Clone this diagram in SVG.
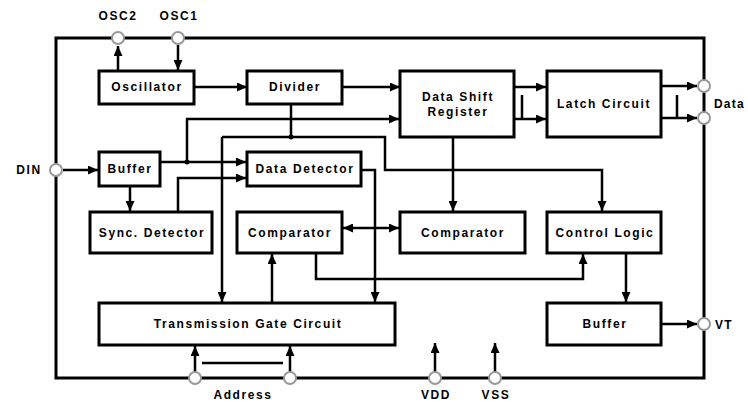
<svg xmlns="http://www.w3.org/2000/svg" width="748" height="402" viewBox="0 0 748 402">
<defs>
<style>
.box{fill:#fff;stroke:#000;stroke-width:3}
.ln{fill:none;stroke:#000;stroke-width:2.5}
.pin{fill:#fff;stroke:#999;stroke-width:2}
.t{font-family:"Liberation Sans",Arial,sans-serif;font-size:12px;font-weight:bold;letter-spacing:1.6px;text-anchor:middle;fill:#000}
.l{font-family:"Liberation Sans",Arial,sans-serif;font-size:12px;font-weight:bold;letter-spacing:1.2px;fill:#000}
</style>
<marker id="ah" markerUnits="userSpaceOnUse" markerWidth="10" markerHeight="9" refX="10" refY="4.5" orient="auto">
<path d="M0,0 L10,4.5 L0,9 z" fill="#000"/>
</marker>
</defs>
<rect width="748" height="402" fill="#fff"/>
<g id="frame">
<rect x="56" y="38" width="648" height="340" fill="none" stroke="#000" stroke-width="3"/>
</g>
<g id="connectors" class="ln">
<path d="M118,71 V46" marker-end="url(#ah)"/>
<path d="M178,45 V70" marker-end="url(#ah)"/>
<path d="M194,87 H247" marker-end="url(#ah)"/>
<path d="M342,87 H400" marker-end="url(#ah)"/>
<path d="M291,104 V137"/>
<path d="M222,137 H385 V170 H602 V211" marker-end="url(#ah)"/>
<path d="M222,137 V302" marker-end="url(#ah)"/>
<path d="M63,170 H98" marker-end="url(#ah)"/>
<path d="M160,162 H246" marker-end="url(#ah)"/>
<path d="M187,162 V119 H399" marker-end="url(#ah)"/>
<path d="M178,212 V178 H246" marker-end="url(#ah)"/>
<path d="M130,186 V211" marker-end="url(#ah)"/>
<path d="M361,170 H375 V302" marker-end="url(#ah)"/>
<path d="M453,137 V211" marker-end="url(#ah)"/>
<path d="M371,228 H343" marker-end="url(#ah)"/>
<path d="M371,228 H399" marker-end="url(#ah)"/>
<path d="M272,303 V254" marker-end="url(#ah)"/>
<path d="M316,253 V279 H583 V254" marker-end="url(#ah)"/>
<path d="M626,253 V302" marker-end="url(#ah)"/>
<path d="M661,324 H697" marker-end="url(#ah)"/>
<path d="M514,87 H546" marker-end="url(#ah)"/>
<path d="M514,119 H546" marker-end="url(#ah)"/>
<path d="M522,95 V119"/>
<path d="M661,86 H697" marker-end="url(#ah)"/>
<path d="M661,118 H697" marker-end="url(#ah)"/>
<path d="M677,95 V118"/>
<path d="M195,372 V346" marker-end="url(#ah)"/>
<path d="M290,372 V346" marker-end="url(#ah)"/>
<path d="M202,363 H283"/>
<path d="M435,372 V343" marker-end="url(#ah)"/>
<path d="M495,372 V343" marker-end="url(#ah)"/>
<circle cx="291" cy="137" r="2.5" fill="#000" stroke="none"/>
<circle cx="187" cy="162" r="2.5" fill="#000" stroke="none"/>
</g>
<g id="pins">
<circle class="pin" cx="118" cy="38" r="6"/>
<circle class="pin" cx="178" cy="38" r="6"/>
<circle class="pin" cx="56" cy="170" r="6"/>
<circle class="pin" cx="704" cy="86" r="6"/>
<circle class="pin" cx="704" cy="118" r="6"/>
<circle class="pin" cx="704" cy="324" r="6"/>
<circle class="pin" cx="195" cy="378" r="6"/>
<circle class="pin" cx="290" cy="378" r="6"/>
<circle class="pin" cx="435" cy="378" r="6"/>
<circle class="pin" cx="495" cy="378" r="6"/>
<text class="t" x="118" y="20">OSC2</text>
<text class="t" x="179" y="20">OSC1</text>
<text class="t" x="29" y="174">DIN</text>
<text class="l" x="714" y="108">Data</text>
<text class="l" x="715" y="329">VT</text>
<text class="t" x="243" y="399">Address</text>
<text class="t" x="436" y="399">VDD</text>
<text class="t" x="496" y="399">VSS</text>
</g>
<g id="oscillator"><rect class="box" x="99" y="71" width="95" height="33"/><text class="t" x="147" y="91">Oscillator</text></g>
<g id="divider"><rect class="box" x="247" y="71" width="95" height="33"/><text class="t" x="295" y="91">Divider</text></g>
<g id="data-shift-register"><rect class="box" x="400" y="71" width="114" height="66"/><text class="t" x="458" y="101">Data  Shift</text><text class="t" x="458" y="116">Register</text></g>
<g id="latch-circuit"><rect class="box" x="547" y="71" width="114" height="66"/><text class="t" x="604" y="108">Latch Circuit</text></g>
<g id="buffer-in"><rect class="box" x="99" y="152" width="61" height="34"/><text class="t" x="130" y="173">Buffer</text></g>
<g id="data-detector"><rect class="box" x="247" y="152" width="114" height="34"/><text class="t" x="305" y="173">Data Detector</text></g>
<g id="sync-detector"><rect class="box" x="90" y="212" width="122" height="41"/><text class="t" x="152" y="237">Sync. Detector</text></g>
<g id="comparator-1"><rect class="box" x="237" y="212" width="105" height="41"/><text class="t" x="290" y="237">Comparator</text></g>
<g id="comparator-2"><rect class="box" x="400" y="212" width="125" height="41"/><text class="t" x="463" y="237">Comparator</text></g>
<g id="control-logic"><rect class="box" x="547" y="212" width="114" height="41"/><text class="t" x="605" y="237">Control Logic</text></g>
<g id="transmission-gate-circuit"><rect class="box" x="99" y="303" width="296" height="42"/><text class="t" x="248" y="328">Transmission Gate Circuit</text></g>
<g id="buffer-out"><rect class="box" x="547" y="303" width="114" height="42"/><text class="t" x="605" y="328">Buffer</text></g>
</svg>
